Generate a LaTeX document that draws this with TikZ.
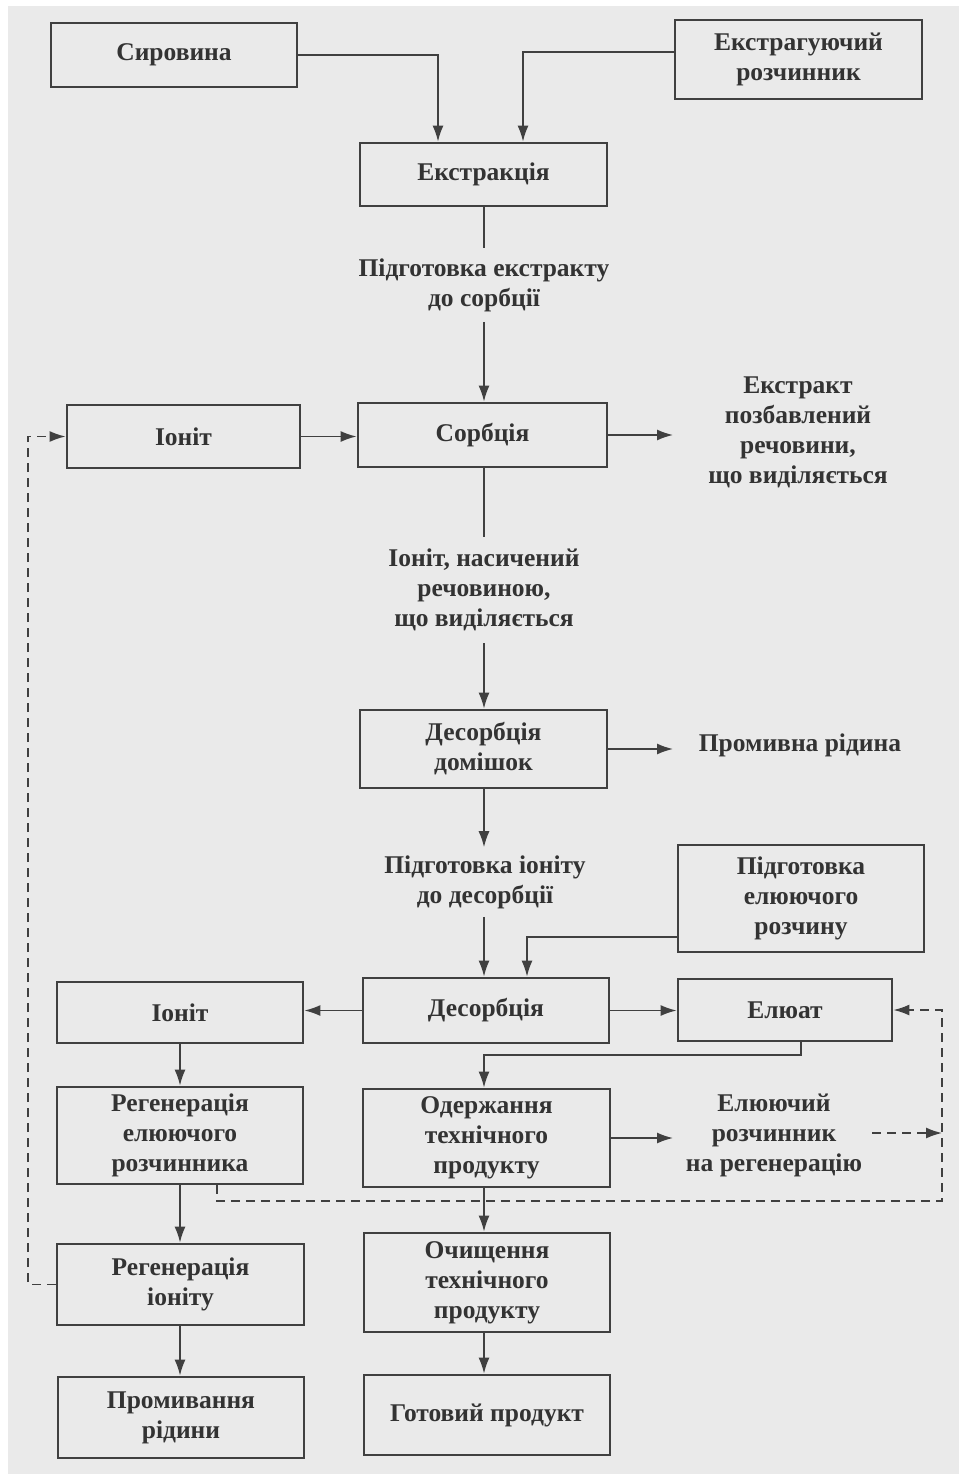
\documentclass[tikz,border=0pt]{standalone}
\usepackage{fontspec}
\setmainfont{Liberation Serif}
\usetikzlibrary{arrows.meta,calc}
\definecolor{bgc}{HTML}{EAEAEA}
\definecolor{ink}{HTML}{333333}
\definecolor{linec}{HTML}{404040}
\tikzset{
  lbl/.style={text=ink,font=\fontsize{25.5}{30}\selectfont\bfseries,align=center,inner sep=0pt},
  procbox/.style={lbl,draw=linec,line width=2.8pt},
  conn/.style={draw=linec,line width=1.6pt},
  arr/.style={conn,-{Latex[length=16pt,width=11pt]}},
  darr/.style={arr,dash pattern=on 9pt off 6pt},
}
\begin{document}
\begin{tikzpicture}[x=1pt,y=-1pt]
\useasboundingbox (0,0) rectangle (959,1474);
\fill[white] (0,0) rectangle (959,1474);
\fill[bgc] (8,6) rectangle (959,1474);

% boxes
\node[procbox,minimum width=246pt,minimum height=64pt] (syr) at (174,55) {Сировина};
\node[procbox,minimum width=247pt,minimum height=79pt] (solv) at (798.5,59.5) {Екстрагуючий\\розчинник};
\node[procbox,minimum width=247pt,minimum height=63pt] (extr) at (483.5,174.5) {Екстракція};
\node[procbox,minimum width=233pt,minimum height=63pt] (ion1) at (183.5,436.5) {Іоніт};
\node[procbox,minimum width=249pt,minimum height=64pt] (sorb) at (482.5,435) {Сорбція};
\node[procbox,minimum width=247pt,minimum height=78pt] (desd) at (483.5,749) {Десорбція\\домішок};
\node[procbox,minimum width=246pt,minimum height=107pt] (prep) at (801,898.5) {Підготовка\\елюючого\\розчину};
\node[procbox,minimum width=246pt,minimum height=61pt] (ion2) at (180,1012.5) {Іоніт};
\node[procbox,minimum width=246pt,minimum height=65pt] (desorb) at (486,1010.5) {Десорбція};
\node[procbox,minimum width=214pt,minimum height=62pt] (elu) at (785,1010) {Елюат};
\node[procbox,minimum width=246pt,minimum height=97pt] (regel) at (180,1135.5) {Регенерація\\елюючого\\розчинника};
\node[procbox,minimum width=247pt,minimum height=98pt] (oderzh) at (486.5,1138) {Одержання\\технічного\\продукту};
\node[procbox,minimum width=247pt,minimum height=81pt] (region) at (180.5,1284.5) {Регенерація\\іоніту};
\node[procbox,minimum width=246pt,minimum height=99pt] (ochys) at (487,1282.5) {Очищення\\технічного\\продукту};
\node[procbox,minimum width=246pt,minimum height=81pt] (promyv) at (181,1417.5) {Промивання\\рідини};
\node[procbox,minimum width=246pt,minimum height=80pt] (gotov) at (487,1415) {Готовий продукт};

% free labels
\node[lbl,inner ysep=10pt] (t1) at (484,285) {Підготовка екстракту\\до сорбції};
\node[lbl] (t2) at (798,432) {Екстракт\\позбавлений\\речовини,\\що виділяється};
\node[lbl,inner ysep=12pt] (t3) at (484,590) {Іоніт, насичений\\речовиною,\\що виділяється};
\node[lbl] (t4) at (800,745) {Промивна рідина};
\node[lbl,inner ysep=8pt] (t5) at (485,882) {Підготовка іоніту\\до десорбції};
\node[lbl] (t6) at (774,1135) {Елюючий\\розчинник\\на регенерацію};

% helper coordinates
\coordinate (col) at (484,0);
\coordinate (lcol) at (180,0);
\coordinate (c1) at (438,0);
\coordinate (c2) at (523,52);
\coordinate (e2) at (673,0);
\coordinate (c3) at (527,937);
\coordinate (c4) at (801,1055);
\coordinate (dl) at (28,0);
\coordinate (dr) at (942,1201);
\coordinate (dre) at (217,0);
\coordinate (d6) at (872,1133);

% connectors
\draw[arr] (syr.east) -| (extr.north -| c1);
\draw[arr] (solv.west |- c2) -| (extr.north -| c2);
\draw[conn] (extr.south -| col) -- (t1.north -| col);
\draw[arr] (t1.south -| col) -- (sorb.north -| col);
\draw[arr] (ion1.east) -- (ion1.east -| sorb.west);
\draw[arr] (sorb.east) -- (sorb.east -| e2);
\draw[conn] (sorb.south -| col) -- (t3.north -| col);
\draw[arr] (t3.south -| col) -- (desd.north -| col);
\draw[arr] (desd.east) -- (desd.east -| e2);
\draw[arr] (desd.south -| col) -- (t5.north -| col);
\draw[arr] (t5.south -| col) -- (desorb.north -| col);
\draw[arr] (prep.west |- c3) -| (desorb.north -| c3);
\draw[arr] (desorb.west) -- (desorb.west -| ion2.east);
\draw[arr] (desorb.east) -- (desorb.east -| elu.west);
\draw[arr] (elu.south -| c4) -- (c4) -| (oderzh.north -| col);
\draw[arr] (ion2.south -| lcol) -- (regel.north -| lcol);
\draw[arr] (oderzh.east) -- (oderzh.east -| e2);
\draw[arr] (oderzh.south -| col) -- (ochys.north -| col);
\draw[arr] (regel.south -| lcol) -- (region.north -| lcol);
\draw[arr] (region.south -| lcol) -- (promyv.north -| lcol);
\draw[arr] (ochys.south -| col) -- (gotov.north -| col);

% dashed return lines
\draw[darr] (region.west) -| (dl |- ion1.west) -- (ion1.west);
\draw[darr] (regel.south -| dre) |- (dr) |- (elu.east);
\draw[darr] (d6) -- (d6 -| dr);
\end{tikzpicture}
\end{document}
